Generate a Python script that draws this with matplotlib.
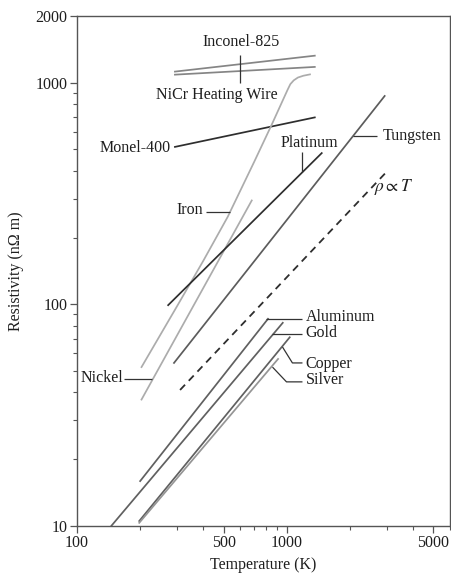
import matplotlib
matplotlib.use('Agg')
import matplotlib.pyplot as plt
from matplotlib.ticker import FixedLocator, FixedFormatter, LogLocator, NullFormatter

plt.rcParams['font.family'] = ['Liberation Serif', 'DejaVu Serif']
plt.rcParams['mathtext.fontset'] = 'stix'

# ---- data (Temperature K, resistivity nOhm m) ----
inconel_T = [293, 1360]
inconel_rho = [1122, 1324]
nicr_T = [293, 1360]
nicr_rho = [1087, 1178]
monel_T = [293, 1360]
monel_rho = [513, 697]
iron_T = [203, 300, 400, 523, 700, 850, 1008, 1040, 1080, 1130, 1200, 1290]
iron_rho = [52, 98, 157, 248, 440, 650, 927, 985, 1025, 1055, 1075, 1090]
nickel_T = [203, 681]
nickel_rho = [37.1, 294]
platinum_T = [272, 1468]
platinum_rho = [99, 481]
tungsten_T = [290, 2929]
tungsten_rho = [54.3, 871]
linear_T = [310, 3000]
linear_rho = [41, 397]
aluminum_T = [200, 814]
aluminum_rho = [15.9, 85.9]
gold_T = [146, 957]
gold_rho = [10, 82.4]
copper_T = [198, 1033]
copper_rho = [10.5, 70.9]
silver_T = [198, 909]
silver_rho = [10.3, 56.6]

x_ticks = [100, 500, 1000, 5000]
x_ticklabels = ['100', '500', '1000', '5000']
y_ticks = [10, 100, 1000, 2000]
y_ticklabels = ['10', '100', '1000', '2000']

fig = plt.figure(figsize=(4.51, 5.77), dpi=100)
ax = fig.add_axes([77/451, 1-525.7/577, (450-77)/451, (525.7-16)/577])
ax.set_xscale('log')
ax.set_yscale('log')
ax.set_xlim(100, 6000)
ax.set_ylim(10, 2000)

lw = 1.25
ax.plot(inconel_T, inconel_rho, color='#858585', lw=lw)
ax.plot(nicr_T, nicr_rho, color='#858585', lw=lw)
ax.plot(monel_T, monel_rho, color='#2e2e2e', lw=lw)
ax.plot(iron_T, iron_rho, color='#acacac', lw=lw)
ax.plot(nickel_T, nickel_rho, color='#acacac', lw=lw)
ax.plot(platinum_T, platinum_rho, color='#2e2e2e', lw=lw)
ax.plot(tungsten_T, tungsten_rho, color='#5c5c5c', lw=lw)
ax.plot(linear_T, linear_rho, color='#2e2e2e', lw=1.3, linestyle=(0, (4, 3)))
ax.plot(aluminum_T, aluminum_rho, color='#606060', lw=lw)
ax.plot(gold_T, gold_rho, color='#606060', lw=lw)
ax.plot(copper_T, copper_rho, color='#606060', lw=lw)
ax.plot(silver_T, silver_rho, color='#959595', lw=lw)

tc = '#1e1e1e'
fs = 11.5
lc = '#333333'
llw = 0.9

def leader(xs, ys):
    ax.plot(xs, ys, color=lc, lw=llw, solid_capstyle='butt')

ax.text(603, 1528, 'Inconel-825', ha='center', va='center', fontsize=fs, color=tc)
ax.text(463, 880, 'NiCr Heating Wire', ha='center', va='center', fontsize=fs, color=tc)
leader([600, 600], [1340, 1000])

ax.text(280, 507, 'Monel-400', ha='right', va='center', fontsize=fs, color=tc)

ax.text(1282, 536, 'Platinum', ha='center', va='center', fontsize=fs, color=tc)
leader([1181, 1181], [486, 395])

ax.text(2852, 574, 'Tungsten', ha='left', va='center', fontsize=fs, color=tc)
leader([2075, 2700], [572, 572])

ax.text(3251, 338, r'$\rho \propto T$', ha='center', va='center', fontsize=12.5, color=tc)

ax.text(397, 266, 'Iron', ha='right', va='center', fontsize=fs, color=tc)
leader([414, 534], [260, 260])

ax.text(166, 46.4, 'Nickel', ha='right', va='center', fontsize=fs, color=tc)
leader([167, 227], [45.9, 45.9])

ax.text(1227, 87.5, 'Aluminum', ha='left', va='center', fontsize=fs, color=tc)
leader([798, 1188], [85.7, 85.7])
ax.text(1227, 74.1, 'Gold', ha='left', va='center', fontsize=fs, color=tc)
leader([855, 1188], [73.4, 73.4])
ax.text(1227, 53.7, 'Copper', ha='left', va='center', fontsize=fs, color=tc)
leader([954, 1064, 1188], [64.1, 54.3, 54.3])
ax.text(1227, 45.5, 'Silver', ha='left', va='center', fontsize=fs, color=tc)
leader([855, 997, 1188], [52.0, 44.6, 44.6])

ax.xaxis.set_major_locator(FixedLocator(x_ticks))
ax.xaxis.set_major_formatter(FixedFormatter(x_ticklabels))
ax.xaxis.set_minor_locator(LogLocator(base=10, subs=range(2, 10)))
ax.xaxis.set_minor_formatter(NullFormatter())
ax.yaxis.set_major_locator(FixedLocator(y_ticks))
ax.yaxis.set_major_formatter(FixedFormatter(y_ticklabels))
ax.yaxis.set_minor_locator(LogLocator(base=10, subs=range(2, 10)))
ax.yaxis.set_minor_formatter(NullFormatter())

for s in ax.spines.values():
    s.set_color('#555555')
    s.set_linewidth(1.0)
ax.tick_params(which='major', direction='out', length=5, width=0.9, color='#555555',
               labelsize=11.5, labelcolor=tc, pad=2)
ax.tick_params(which='minor', direction='out', length=3, width=0.8, color='#555555')

ax.set_xlabel('Temperature (K)', fontsize=11.5, color=tc, labelpad=4)
ax.set_ylabel('Resistivity (n\u03a9 m)', fontsize=11.5, color=tc, labelpad=8)

fig.savefig('out.png', dpi=100)
